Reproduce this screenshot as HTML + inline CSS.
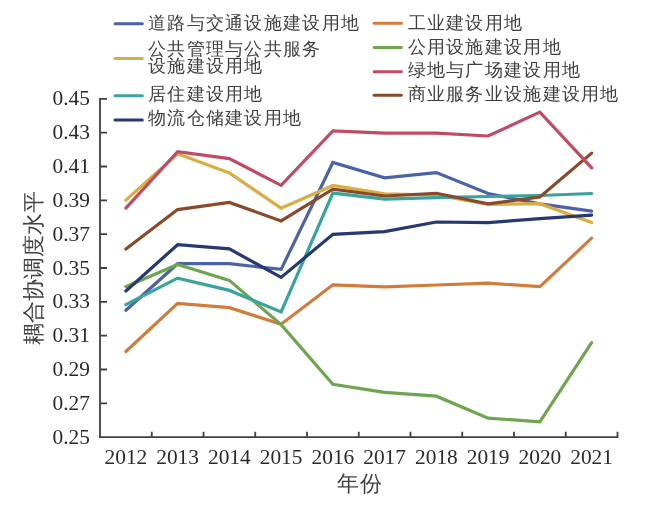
<!DOCTYPE html>
<html><head><meta charset="utf-8"><style>
html,body{margin:0;padding:0;background:#fff;width:650px;height:509px;overflow:hidden}
svg{display:block;filter:blur(0.3px)}
.n{font-family:"Liberation Serif",serif;font-size:21.4px;fill:#2a2a2a}
.c{font-family:"Liberation Serif",serif;font-size:18px;letter-spacing:1.3px;fill:#404040}
.c2{font-family:"Liberation Serif",serif;font-size:21.6px;fill:#404040}
</style></head><body>
<svg width="650" height="509" viewBox="0 0 650 509">
<path d="M100.0,98.80 H107.0 M100.0,132.64 H107.0 M100.0,166.48 H107.0 M100.0,200.32 H107.0 M100.0,234.16 H107.0 M100.0,268.00 H107.0 M100.0,301.84 H107.0 M100.0,335.68 H107.0 M100.0,369.52 H107.0 M100.0,403.36 H107.0 M151.75,437.2 V431.7 M203.50,437.2 V431.7 M255.25,437.2 V431.7 M307.00,437.2 V431.7 M358.75,437.2 V431.7 M410.50,437.2 V431.7 M462.25,437.2 V431.7 M514.00,437.2 V431.7 M565.75,437.2 V431.7" fill="none" stroke="#404040" stroke-width="1.8"/>
<path d="M100.0,97.89999999999999 V437.2 H617.5 V431.7" fill="none" stroke="#404040" stroke-width="1.8" stroke-linejoin="miter"/>
<text x="90" y="105.40" text-anchor="end" class="n">0.45</text>
<text x="90" y="139.24" text-anchor="end" class="n">0.43</text>
<text x="90" y="173.08" text-anchor="end" class="n">0.41</text>
<text x="90" y="206.92" text-anchor="end" class="n">0.39</text>
<text x="90" y="240.76" text-anchor="end" class="n">0.37</text>
<text x="90" y="274.60" text-anchor="end" class="n">0.35</text>
<text x="90" y="308.44" text-anchor="end" class="n">0.33</text>
<text x="90" y="342.28" text-anchor="end" class="n">0.31</text>
<text x="90" y="376.12" text-anchor="end" class="n">0.29</text>
<text x="90" y="409.96" text-anchor="end" class="n">0.27</text>
<text x="90" y="443.80" text-anchor="end" class="n">0.25</text>
<text x="125.88" y="463.5" text-anchor="middle" class="n">2012</text>
<text x="177.62" y="463.5" text-anchor="middle" class="n">2013</text>
<text x="229.38" y="463.5" text-anchor="middle" class="n">2014</text>
<text x="281.12" y="463.5" text-anchor="middle" class="n">2015</text>
<text x="332.88" y="463.5" text-anchor="middle" class="n">2016</text>
<text x="384.62" y="463.5" text-anchor="middle" class="n">2017</text>
<text x="436.38" y="463.5" text-anchor="middle" class="n">2018</text>
<text x="488.12" y="463.5" text-anchor="middle" class="n">2019</text>
<text x="539.88" y="463.5" text-anchor="middle" class="n">2020</text>
<text x="591.62" y="463.5" text-anchor="middle" class="n">2021</text>
<polyline points="125.88,310.30 177.62,263.70 229.38,263.70 281.12,269.40 332.88,162.50 384.62,177.90 436.38,172.60 488.12,193.50 539.88,203.80 591.62,211.10" fill="none" stroke="#4b62a6" stroke-width="3.2" stroke-linejoin="miter" stroke-linecap="round"/>
<polyline points="125.88,351.50 177.62,303.30 229.38,307.70 281.12,324.20 332.88,284.80 384.62,286.90 436.38,285.00 488.12,283.20 539.88,286.70 591.62,238.20" fill="none" stroke="#d27c3c" stroke-width="3.2" stroke-linejoin="miter" stroke-linecap="round"/>
<polyline points="125.88,200.10 177.62,153.80 229.38,173.00 281.12,208.10 332.88,185.50 384.62,193.80 436.38,195.00 488.12,204.40 539.88,203.70 591.62,222.60" fill="none" stroke="#d9ad44" stroke-width="3.2" stroke-linejoin="miter" stroke-linecap="round"/>
<polyline points="125.88,286.70 177.62,264.50 229.38,280.40 281.12,324.60 332.88,384.30 384.62,392.30 436.38,396.20 488.12,418.10 539.88,421.80 591.62,342.60" fill="none" stroke="#6ea650" stroke-width="3.2" stroke-linejoin="miter" stroke-linecap="round"/>
<polyline points="125.88,304.70 177.62,278.20 229.38,290.40 281.12,311.90 332.88,193.10 384.62,199.10 436.38,197.70 488.12,196.50 539.88,195.50 591.62,193.50" fill="none" stroke="#38a59c" stroke-width="3.2" stroke-linejoin="miter" stroke-linecap="round"/>
<polyline points="125.88,249.10 177.62,209.60 229.38,202.50 281.12,220.90 332.88,189.10 384.62,196.00 436.38,193.30 488.12,203.80 539.88,197.00 591.62,153.10" fill="none" stroke="#8a4a2a" stroke-width="3.2" stroke-linejoin="miter" stroke-linecap="round"/>
<polyline points="125.88,291.00 177.62,244.70 229.38,248.90 281.12,277.40 332.88,234.30 384.62,231.60 436.38,222.00 488.12,222.60 539.88,218.70 591.62,215.20" fill="none" stroke="#263a70" stroke-width="3.2" stroke-linejoin="miter" stroke-linecap="round"/>
<polyline points="125.88,208.10 177.62,151.60 229.38,158.60 281.12,185.40 332.88,130.80 384.62,133.10 436.38,133.10 488.12,136.00 539.88,112.10 591.62,167.90" fill="none" stroke="#bf4c64" stroke-width="3.2" stroke-linejoin="miter" stroke-linecap="round"/>
<path d="M115.0,23.8 H142.3" stroke="#4b62a6" stroke-width="3" stroke-linecap="round"/>
<path d="M115.0,58.4 H142.3" stroke="#d9ad44" stroke-width="3" stroke-linecap="round"/>
<path d="M115.0,95.8 H142.3" stroke="#38a59c" stroke-width="3" stroke-linecap="round"/>
<path d="M115.0,120.0 H142.3" stroke="#263a70" stroke-width="3" stroke-linecap="round"/>
<path d="M374.1,23.3 H401.40000000000003" stroke="#d27c3c" stroke-width="3" stroke-linecap="round"/>
<path d="M374.1,47.5 H401.40000000000003" stroke="#6ea650" stroke-width="3" stroke-linecap="round"/>
<path d="M374.1,71.7 H401.40000000000003" stroke="#bf4c64" stroke-width="3" stroke-linecap="round"/>
<path d="M374.1,95.2 H401.40000000000003" stroke="#8a4a2a" stroke-width="3" stroke-linecap="round"/>
<text x="148.0" y="28.5" class="c">道路与交通设施建设用地</text>
<text x="148.0" y="54.6" class="c">公共管理与公共服务</text>
<text x="148.0" y="72.0" class="c">设施建设用地</text>
<text x="148.0" y="99.5" class="c">居住建设用地</text>
<text x="148.0" y="123.5" class="c">物流仓储建设用地</text>
<text x="407.5" y="28.8" class="c">工业建设用地</text>
<text x="407.5" y="52.8" class="c">公用设施建设用地</text>
<text x="407.5" y="76.3" class="c">绿地与广场建设用地</text>
<text x="407.5" y="100.3" class="c">商业服务业设施建设用地</text>
<text x="360.2" y="491.3" text-anchor="middle" class="c2" letter-spacing="1.5">年份</text>
<text transform="translate(40.5,268.2) rotate(-90)" text-anchor="middle" class="c2">耦合协调度水平</text>
</svg>
</body></html>
